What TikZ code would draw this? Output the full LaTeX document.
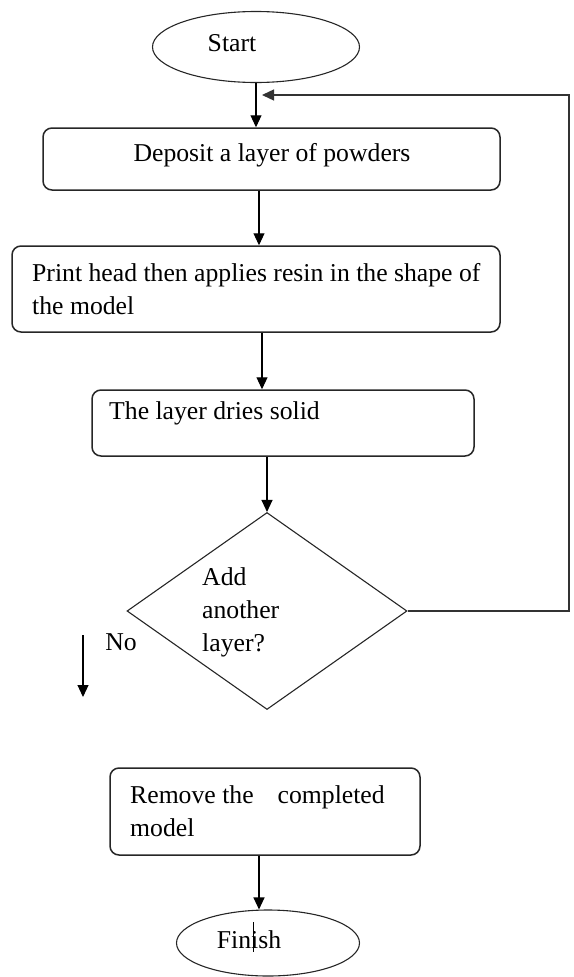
\documentclass[tikz,border=0pt]{standalone}
\usepackage{fontspec}
\setmainfont{Liberation Serif}
\usetikzlibrary{shapes.geometric,arrows.meta,calc}
\begin{document}
\begin{tikzpicture}[x=1pt,y=-1pt,
  txt/.style={font=\fontsize{25.7}{33}\selectfont, inner sep=0pt, align=left},
  box/.style={draw=black!85, line width=1.5pt, rounded corners=9pt, inner sep=0pt},
  ell/.style={draw=black!85, ellipse, line width=1.1pt, inner sep=0pt},
  dia/.style={draw=black!85, diamond, line width=1.1pt, inner sep=0pt},
  arr/.style={draw=black, line width=1.1pt, -{Triangle[length=12pt,width=11pt]}},
  fb/.style={draw=black!80, line width=1.4pt, -{Triangle[length=12pt,width=11pt]}}]
\useasboundingbox (0,0) rectangle (573,977);

% shapes
\node[ell, minimum width=207pt, minimum height=71pt] (start) at (256,47) {};
\node[txt] (tstart) at (232,43) {Start};

\node[box, minimum width=457pt, minimum height=62pt] (dep) at (271.5,159) {};
\node[txt] (tdep) at (272,155) {Deposit a layer of powders};

\node[box, minimum width=488pt, minimum height=86pt] (print) at (256,289) {};
\node[txt, anchor=west] (tprint) at (32,289) {Print head then applies resin in the shape of\\the model};

\node[box, minimum width=382pt, minimum height=66pt] (lay) at (283,423) {};
\node[txt, anchor=west] (tlay) at (109,413) {The layer dries solid};

\node[dia, minimum width=280pt, minimum height=197pt] (dia) at (267,611) {};
\node[txt, anchor=west] (tdia) at (202,612) {Add\\another\\layer?};

\node[txt] (no) at (121,642) {No};

\node[box, minimum width=310pt, minimum height=87pt] (rem) at (265,811.5) {};
\node[txt, anchor=west] (trem) at (130,811) {Remove the\hspace{24pt}completed\\model};

\node[ell, minimum width=183pt, minimum height=66pt] (fin) at (268,943) {};
\node[txt] (tfin) at (249,940) {Finish};

% helper coordinates
\coordinate (x259) at (259,0);
\coordinate (x262) at (262,0);
\coordinate (fb1) at (569,610);
\coordinate (fb2) at (569,95);
\coordinate (fb3) at (262,95);
\coordinate (n1) at (83,635);
\coordinate (n2) at (83,697);
\coordinate (m1) at (253,922);
\coordinate (m2) at (253,952);

% connectors
\draw[arr] (start.south) -- (start.south |- dep.north);
\draw[arr] (dep.south -| x259) -- (print.north -| x259);
\draw[arr] (print.south -| x262) -- (lay.north -| x262);
\draw[arr] (dia.north |- lay.south) -- (dia.north);
\draw[fb] (dia.east) -- (dia.east -| fb1) -- (fb2) -- (fb3);
\draw[arr] (n1) -- (n2);
\draw[arr] (rem.south -| x259) -- (fin.north -| x259);
\draw[line width=0.7pt] (m1) -- (m2);
\end{tikzpicture}
\end{document}
